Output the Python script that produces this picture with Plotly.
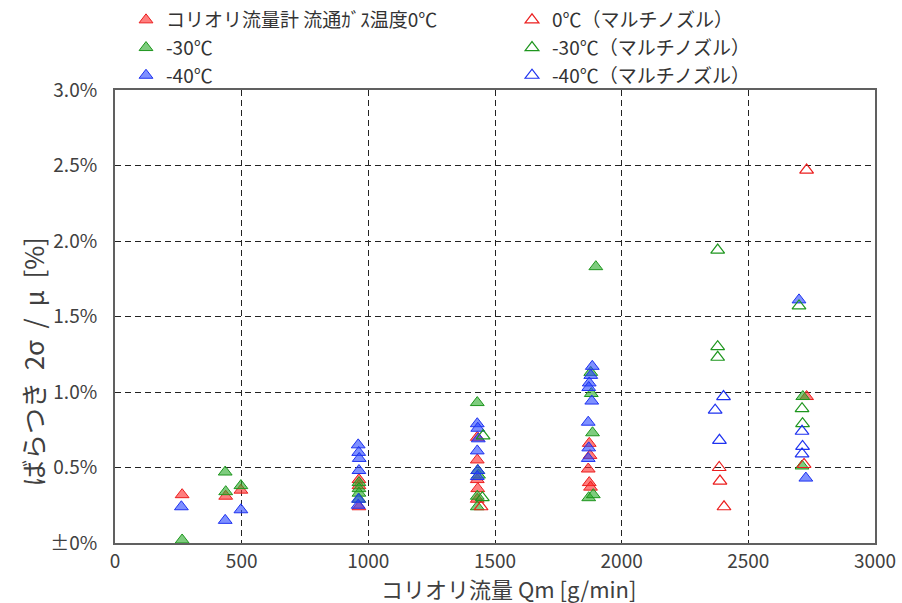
import plotly.graph_objects as go

# ---- data ----
red_fill_x = [265, 437, 497, 963, 963, 963, 1430, 1430, 1430, 1432, 1430, 1872, 1875, 1868, 1872, 1877, 2730]
red_fill_y = [0.32, 0.31, 0.35, 0.42, 0.38, 0.24, 0.70, 0.55, 0.42, 0.36, 0.29, 0.66, 0.58, 0.49, 0.40, 0.37, 0.97]

green_fill_x = [265, 435, 437, 497, 963, 963, 963, 963, 1430, 1432, 1435, 1430, 1430, 1898, 1878, 1880, 1885, 1870, 1888, 2715, 2712]
green_fill_y = [0.02, 0.47, 0.34, 0.38, 0.40, 0.36, 0.33, 0.29, 0.93, 0.48, 0.45, 0.31, 0.24, 1.83, 1.13, 0.99, 0.73, 0.30, 0.32, 0.97, 0.51]

blue_fill_x = [262, 435, 497, 960, 962, 964, 963, 961, 960, 1430, 1432, 1434, 1430, 1432, 1430, 1884, 1878, 1872, 1870, 1882, 1868, 1870, 1868, 2700, 2727]
blue_fill_y = [0.24, 0.15, 0.22, 0.65, 0.60, 0.56, 0.48, 0.29, 0.25, 0.79, 0.76, 0.69, 0.61, 0.48, 0.44, 1.17, 1.11, 1.06, 1.03, 0.94, 0.80, 0.63, 0.56, 1.61, 0.43]

red_open_x = [1445, 2385, 2388, 2404, 2730, 2720]
red_open_y = [0.24, 0.50, 0.41, 0.24, 2.47, 0.52]

green_open_x = [1453, 1450, 2379, 2379, 2379, 2700, 2712, 2714]
green_open_y = [0.71, 0.30, 1.94, 1.30, 1.23, 1.57, 0.89, 0.79]

blue_open_x = [2402, 2369, 2386, 2712, 2714, 2712]
blue_open_y = [0.97, 0.88, 0.68, 0.74, 0.64, 0.59]

labels_fill = ["コリオリ流量計 流通ｶﾞｽ温度0℃", "-30℃", "-40℃"]
labels_open = ["0℃（マルチノズル）", "-30℃（マルチノズル）", "-40℃（マルチノズル）"]

y_ticks = [0, 0.5, 1.0, 1.5, 2.0, 2.5, 3.0]
y_tick_text = ["±0%", "0.5%", "1.0%", "1.5%", "2.0%", "2.5%", "3.0%"]
x_ticks = [0, 500, 1000, 1500, 2000, 2500, 3000]

x_title = "コリオリ流量 Qm [g/min]"
y_title = "ばらつき  2σ  /  μ  [%]"

FONT = "Noto Sans CJK JP, Noto Sans, sans-serif"
TXT = "#404040"

cols = [("rgba(255,40,40,0.6)", "rgb(235,30,30)"),
        ("rgba(40,170,40,0.6)", "rgb(30,150,30)"),
        ("rgba(40,70,255,0.6)", "rgb(30,50,240)")]

fig = go.Figure()
fills = [(red_fill_x, red_fill_y), (green_fill_x, green_fill_y), (blue_fill_x, blue_fill_y)]
opens = [(red_open_x, red_open_y), (green_open_x, green_open_y), (blue_open_x, blue_open_y)]

for (xs, ys), lab, (fc, lc) in zip(fills, labels_fill, cols):
    fig.add_trace(go.Scatter(x=xs, y=ys, mode="markers", name=lab, legend="legend",
                             marker=dict(symbol="triangle-up", size=12, color=fc,
                                         line=dict(color=lc, width=1))))
for (xs, ys), lab, (fc, lc) in zip(opens, labels_open, cols):
    fig.add_trace(go.Scatter(x=xs, y=ys, mode="markers", name=lab, legend="legend2",
                             marker=dict(symbol="triangle-up-open", size=12, color=lc,
                                         line=dict(color=lc, width=1.2))))

W, H = 902, 603
L, R, T, B = 115, 27, 90, 60
pw = W - L - R
ph = H - T - B

leg_y = 1 + (T - 1) / ph
leg_font = dict(size=19, color="#333333", family=FONT)

fig.update_layout(
    width=W, height=H,
    margin=dict(l=L, r=R, t=T, b=B, autoexpand=False),
    plot_bgcolor="white", paper_bgcolor="white",
    font=dict(family=FONT, color=TXT, size=19),
    showlegend=True,
    legend=dict(x=(126 - L) / pw, y=leg_y, xanchor="left", yanchor="top",
                orientation="v", bgcolor="rgba(0,0,0,0)", tracegroupgap=0,
                font=leg_font, itemwidth=30),
    legend2=dict(x=(512 - L) / pw, y=leg_y, xanchor="left", yanchor="top",
                 orientation="v", bgcolor="rgba(0,0,0,0)", tracegroupgap=0,
                 font=leg_font, itemwidth=30),
    xaxis=dict(range=[0, 3000], tickvals=x_ticks, showgrid=True,
               gridcolor="#222222", griddash="6px,4px", gridwidth=1,
               showline=True, linecolor="#606060", linewidth=2, mirror=True,
               ticks="", zeroline=False, automargin=False, ticklabelstandoff=0,
               tickfont=dict(size=19, color=TXT)),
    yaxis=dict(range=[0, 3.0], tickvals=y_ticks, ticktext=y_tick_text, showgrid=True,
               gridcolor="#222222", griddash="6px,4px", gridwidth=1,
               showline=True, linecolor="#606060", linewidth=2, mirror=True,
               ticks="", zeroline=False, automargin=False, ticklabelstandoff=12,
               tickfont=dict(size=19, color=TXT)),
    annotations=[
        dict(text=x_title, xref="paper", yref="paper", x=(508 - L) / pw, y=-(588 - (T + ph)) / ph,
             xanchor="center", yanchor="middle", showarrow=False,
             font=dict(size=22, color=TXT, family=FONT)),
        dict(text=y_title, xref="paper", yref="paper", x=-(L - 32) / pw, y=(T + ph - 362) / ph,
             xanchor="center", yanchor="middle", showarrow=False, textangle=-90,
             font=dict(size=26, color=TXT, family=FONT)),
    ],
)

fig.write_html("out.html", config={"displayModeBar": False},
               post_script="document.body.style.margin='0px';")
